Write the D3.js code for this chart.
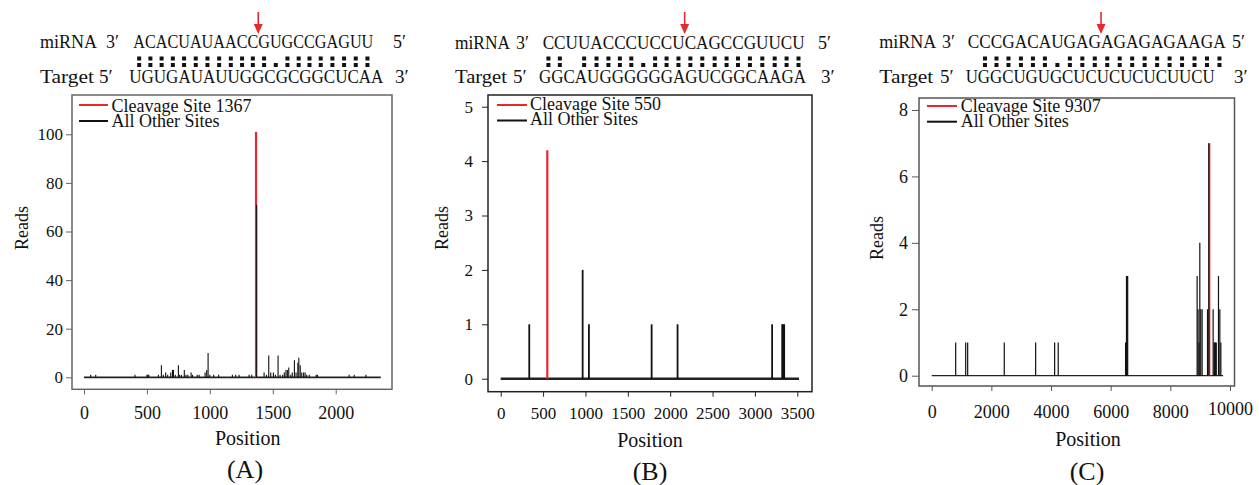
<!DOCTYPE html>
<html>
<head>
<meta charset="utf-8">
<script src="https://cdn.jsdelivr.net/npm/d3@7"></script>
<style>
body { margin: 0; background: #fff; }
svg text { font-family: "Liberation Serif", "Times New Roman", serif !important; fill: #111; }
</style>
</head>
<body>
<svg width="1259" height="485"></svg>
<script>
// ---- data ----
var mirnaA = "ACACUAUAACCGUGCCGAGUU", targetA = "UGUGAUAUUGGCGCGGCUCAA";
var mirnaB = "CCUUACCCUCCUCAGCCGUUCU", targetB = "GGCAUGGGGGGAGUCGGCAAGA";
var mirnaC = "CCCGACAUGAGAGAGAGAAGA", targetC = "UGGCUGUGCUCUCUCUCUUCU";
var cutA = 11, cutB = 12, cutC = 11;   // arrow sits before this letter

var lengthA = 2358, cleaveA = 1367, cleaveReadsA = 101;
var posA = [53, 93, 405, 500, 508, 515, 591, 615, 630, 649, 665, 689, 703, 711, 725, 750, 760, 775, 797, 810,
  825, 851, 862, 900, 915, 962, 975, 986, 1000, 1030, 1070, 1179, 1205, 1232, 1312, 1333, 1372, 1431, 1450, 1468,
  1484, 1505, 1521, 1542, 1558, 1579, 1592, 1605, 1616, 1627, 1643, 1655, 1672, 1685, 1699, 1707, 1718, 1730,
  1745, 1757, 1770, 1790, 1845, 1855, 2107, 2147, 2240];
var readsA = [1, 1, 1, 1, 1, 1, 1, 5, 1, 2, 1, 2, 3, 3, 1, 5, 1, 1, 3, 1,
  1, 2, 1, 1, 1, 2, 3, 10, 1, 1, 1, 1, 1, 1, 1, 1, 71, 2, 1, 9,
  2, 2, 1, 9, 1, 1, 2, 3, 3, 4, 1, 2, 7, 2, 6, 8, 5, 2,
  2, 2, 1, 1, 1, 1, 1, 1, 1];

var lengthB = 3520, cleaveB = 550, cleaveReadsB = 4.2;
var posB = [337, 967, 1041, 1781, 2087, 3203, 3322, 3334, 3345];
var readsB = [1, 2, 1, 1, 1, 1, 1, 1, 1];

var lengthC = 9770, cleaveC = 9307, cleaveReadsC = 7;
var posC = [804, 1139, 1206, 2433, 3484, 4121, 4241, 6499, 6530, 6550, 6570, 8898, 8930, 8960, 8988, 9020,
  9066, 9246, 9290, 9435, 9470, 9490, 9510, 9540, 9614, 9659, 9693];
var readsC = [1, 1, 1, 1, 1, 1, 1, 1, 3, 3, 3, 3, 2, 1, 4, 2,
  2, 2, 7, 2, 1, 1, 1, 1, 3, 2, 1];

var xTicksA = [0, 500, 1000, 1500, 2000], yTicksA = [0, 20, 40, 60, 80, 100];
var xTicksB = [0, 500, 1000, 1500, 2000, 2500, 3000, 3500], yTicksB = [0, 1, 2, 3, 4, 5];
var xTicksC = [0, 2000, 4000, 6000, 8000, 10000], yTicksC = [0, 2, 4, 6, 8];

var legendTexts = ["Cleavage Site ", "All Other Sites"];
var RED = "#e8282c";
var SERIF = '"Liberation Serif", "Times New Roman", serif';

var svg = d3.select("svg");

// ---- layout for each panel ----
var panels = [
  { label: "(A)", mirna: mirnaA, target: targetA, cut: cutA,
    pos: posA, reads: readsA, len: lengthA, cleave: cleaveA, cleaveReads: cleaveReadsA,
    xTicks: xTicksA, yTicks: yTicksA, xDom: [0, 2000], xRange: [84, 335.7], yDom: [0, 100], yRange: [377.3, 134.3],
    box: [72, 95, 392, 389.3], frame: "#666", barW: 1.1, baseW: 1.8, cleaveW: 2.2,
    yPad: 3, ySize: 6, yFont: 17, xFont: 18, xLabY: 413, posX: 247.7, posY: 445, posFont: 20, tagX: 245, tagY: 478,
    readsX: 22, readsY: 228, leg: [79, 108, 111.5, 105, 121], legY: [111.5, 126.7],
    head: { lab: 40, labW: 57, tLabW: 54, r1: 48.3, r2: 83.3, p1: 106, p2: 99, s1: [133.3, 240], s2: [129.3, 254], e1: 393, e2: 395 } },
  { label: "(B)", mirna: mirnaB, target: targetB, cut: cutB,
    pos: posB, reads: readsB, len: lengthB, cleave: cleaveB, cleaveReads: cleaveReadsB,
    xTicks: xTicksB, yTicks: yTicksB, xDom: [0, 3500], xRange: [500.7, 797.3], yDom: [0, 5], yRange: [378.7, 106.7],
    box: [488, 95, 812, 391.7], frame: "#222", barW: 1.8, baseW: 2.4, cleaveW: 2.2,
    yPad: 9, ySize: 6, yFont: 17, xFont: 17, xLabY: 413.3, posX: 650, posY: 447.3, posFont: 20, tagX: 650, tagY: 480,
    readsX: 442, readsY: 228, leg: [497, 527, 530, 105, 120.5], legY: [110, 125],
    head: { lab: 455, labW: 55, tLabW: 52, r1: 49.3, r2: 83.3, p1: 516, p2: 513, s1: [542.7, 262], s2: [539, 267], e1: 818, e2: 821 } },
  { label: "(C)", mirna: mirnaC, target: targetC, cut: cutC,
    pos: posC, reads: readsC, len: lengthC, cleave: cleaveC, cleaveReads: cleaveReadsC,
    xTicks: xTicksC, yTicks: yTicksC, xDom: [0, 10000], xRange: [931.7, 1230], yDom: [0, 8], yRange: [375.7, 110],
    box: [919, 98, 1234.5, 386], frame: "#555", barW: 1.2, baseW: 1.3, cleaveW: 2,
    yPad: 4, ySize: 7, yFont: 18, xFont: 18, xLabY: 411.7, posX: 1088, posY: 446, posFont: 20, tagX: 1087, tagY: 480,
    readsX: 877, readsY: 238, leg: [927, 957, 960.7, 106, 121.7], legY: [112.3, 127.3],
    head: { lab: 879.3, labW: 57, tLabW: 54, r1: 47.7, r2: 82.7, p1: 942, p2: 940, s1: [967.7, 258], s2: [965.7, 249], e1: 1232, e2: 1234 } }
];

function pairMark(a, b) {
  var p = a + b;
  if (["AU", "UA", "GC", "CG"].indexOf(p) >= 0) return ":";
  if (p === "GU" || p === "UG") return ".";
  return " ";
}

function drawHeader(p) {
  var h = p.head, g = svg.append("g");
  function txt(x, y, s, size, w) {
    var t = g.append("text").attr("x", x).attr("y", y).attr("font-size", size)
      .style("font-family", SERIF).text(s);
    if (w) t.attr("textLength", w).attr("lengthAdjust", "spacingAndGlyphs");
    return t;
  }
  txt(h.lab, h.r1, "miRNA", 18, h.labW);
  txt(h.p1, h.r1, "3\u2032", 18);
  var seq = txt(h.s1[0], h.r1, p.mirna, 18, h.s1[1]);
  txt(h.e1, h.r1, "5\u2032", 18);
  txt(h.lab, h.r2, "Target", 19, h.tLabW);
  txt(h.p2, h.r2, "5\u2032", 19);
  txt(h.s2[0], h.r2, p.target, 19, h.s2[1]);
  txt(h.e2, h.r2, "3\u2032", 19);

  // pairing marks under each miRNA letter
  var node = seq.node();
  var n = Math.min(p.mirna.length, p.target.length);
  for (var i = 0; i < n; i++) {
    var m = pairMark(p.mirna[i], p.target[i]);
    if (m === " ") continue;
    var ext = node.getExtentOfChar(i);
    var cx = ext.x + ext.width / 2;
    if (m === ":") g.append("rect").attr("x", cx - 2).attr("y", 56.5).attr("width", 4).attr("height", 4).attr("fill", "#111");
    g.append("rect").attr("x", cx - 2).attr("y", 63).attr("width", 4).attr("height", 4).attr("fill", "#111");
  }

  // cleavage arrow
  var ax = node.getStartPositionOfChar(p.cut).x;
  g.append("line").attr("x1", ax).attr("x2", ax).attr("y1", 12).attr("y2", 27)
    .attr("stroke", RED).attr("stroke-width", 1.6);
  g.append("path").attr("d", "M" + (ax - 4.5) + ",24L" + (ax + 4.5) + ",24L" + ax + ",34Z").attr("fill", RED);
}

function drawPanel(p) {
  var x = d3.scaleLinear().domain(p.xDom).range(p.xRange);
  var y = d3.scaleLinear().domain(p.yDom).range(p.yRange);
  var g = svg.append("g");
  var b = p.box;

  // baseline across the whole transcript
  g.append("line").attr("x1", x(0)).attr("x2", x(p.len)).attr("y1", y(0)).attr("y2", y(0))
    .attr("stroke", "#222").attr("stroke-width", p.baseW);

  // cleavage site
  g.append("line").attr("x1", x(p.cleave)).attr("x2", x(p.cleave)).attr("y1", y(0)).attr("y2", y(p.cleaveReads))
    .attr("stroke", RED).attr("stroke-width", p.cleaveW);

  // other sites
  var sites = p.pos.map(function(d, i) { return { pos: d, reads: p.reads[i] }; });
  g.selectAll(".site").data(sites).enter().append("line")
    .attr("class", "site")
    .attr("x1", function(d) { return x(d.pos); })
    .attr("x2", function(d) { return x(d.pos); })
    .attr("y1", y(0))
    .attr("y2", function(d) { return y(d.reads); })
    .attr("stroke", "#111").attr("stroke-width", p.barW);

  // frame
  g.append("rect").attr("x", b[0]).attr("y", b[1]).attr("width", b[2] - b[0]).attr("height", b[3] - b[1])
    .attr("fill", "none").attr("stroke", p.frame).attr("stroke-width", 1.5);

  // axes
  var ya = g.append("g").attr("transform", "translate(" + b[0] + ",0)")
    .call(d3.axisLeft(y).tickValues(p.yTicks).tickSize(p.ySize).tickPadding(p.yPad).tickFormat(d3.format("d")));
  ya.attr("font-family", SERIF);
  ya.select(".domain").remove();
  ya.selectAll("line").attr("stroke", p.frame);
  ya.selectAll("text").attr("font-size", p.yFont).style("font-family", SERIF);

  var xa = g.append("g").attr("transform", "translate(0," + b[3] + ")")
    .call(d3.axisBottom(x).tickValues(p.xTicks).tickSize(5).tickFormat(d3.format("d")));
  xa.attr("font-family", SERIF);
  xa.select(".domain").remove();
  xa.selectAll("line").attr("stroke", p.frame);
  xa.selectAll("text").attr("font-size", p.xFont).style("font-family", SERIF)
    .attr("y", function(d) { return p.xLabY - b[3] - (d >= 10000 ? 3 : 0); }).attr("dy", "0.35em");

  // axis titles
  g.append("text").attr("x", p.posX).attr("y", p.posY).attr("text-anchor", "middle")
    .attr("font-size", p.posFont).style("font-family", SERIF).text("Position");
  g.append("text").attr("transform", "translate(" + p.readsX + "," + p.readsY + ") rotate(-90)")
    .attr("text-anchor", "middle").attr("dy", "0.35em").attr("font-size", 18).style("font-family", SERIF).text("Reads");
  g.append("text").attr("x", p.tagX).attr("y", p.tagY).attr("text-anchor", "middle")
    .attr("font-size", 26).style("font-family", SERIF).text(p.label);

  // legend
  var l = p.leg;
  g.append("line").attr("x1", l[0]).attr("x2", l[1]).attr("y1", l[3]).attr("y2", l[3]).attr("stroke", RED).attr("stroke-width", 2);
  g.append("line").attr("x1", l[0]).attr("x2", l[1]).attr("y1", l[4]).attr("y2", l[4]).attr("stroke", "#111").attr("stroke-width", 2);
  g.append("text").attr("x", l[2]).attr("y", p.legY[0]).attr("font-size", 18).style("font-family", SERIF).text(legendTexts[0] + p.cleave);
  g.append("text").attr("x", l[2]).attr("y", p.legY[1]).attr("font-size", 18).style("font-family", SERIF).text(legendTexts[1]);
}

panels.forEach(function(p) {
  drawHeader(p);
  drawPanel(p);
});
</script>
</body>
</html>
